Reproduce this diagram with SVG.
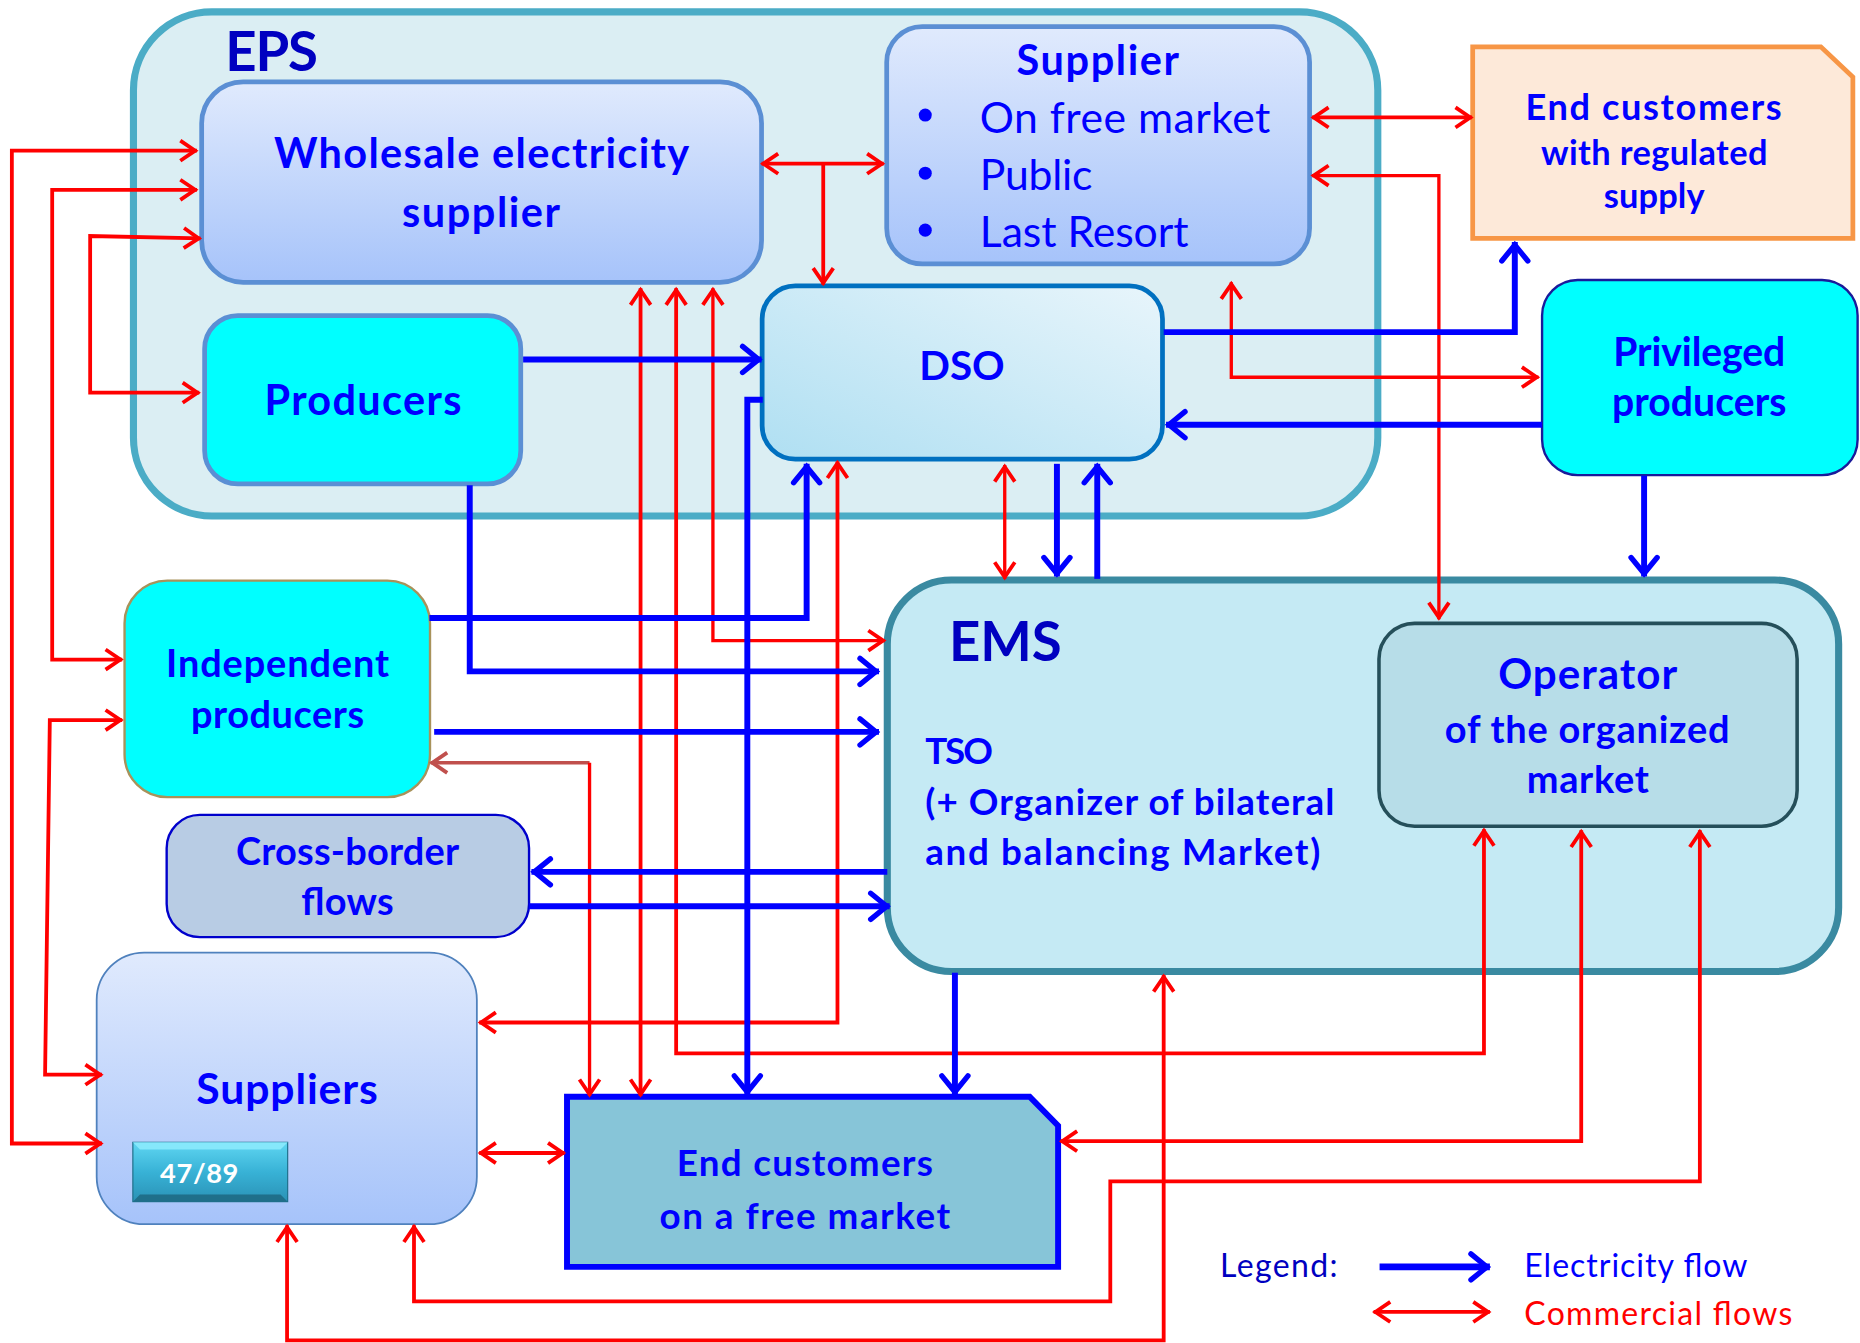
<svg xmlns="http://www.w3.org/2000/svg" width="1860" height="1343" viewBox="0 0 1860 1343">
<defs>
<style>
.t{font-family:Lato,"Open Sans","Noto Sans",sans-serif;font-weight:bold;fill:#0000ff;text-anchor:middle}
.tr{font-family:Lato,"Open Sans","Noto Sans",sans-serif;font-weight:normal;fill:#0000ff}
.r{fill:none;stroke:#ff0000;stroke-width:3.2;stroke-linejoin:miter}
.r2{fill:none;stroke:#ff0000;stroke-width:2.8}
.b{fill:none;stroke:#0000ff;stroke-width:5}
.ra{marker-end:url(#mr)}
.rr{marker-start:url(#mr);marker-end:url(#mr)}
.ba{marker-end:url(#mb)}
</style>
<linearGradient id="gSup" x1="0" y1="0" x2="0" y2="1">
<stop offset="0" stop-color="#e0eafd"/><stop offset="1" stop-color="#a6c3fa"/>
</linearGradient>
<linearGradient id="gDso" x1="0" y1="1" x2="1" y2="0">
<stop offset="0" stop-color="#afdff2"/><stop offset="1" stop-color="#e8f5fb"/>
</linearGradient>
<linearGradient id="gBtn" x1="0" y1="0" x2="0" y2="1">
<stop offset="0" stop-color="#5fd6f2"/><stop offset="0.5" stop-color="#38b2d6"/><stop offset="1" stop-color="#2a92b6"/>
</linearGradient>
<marker id="mr" viewBox="-20 -14 26 28" markerWidth="26" markerHeight="28" refX="0" refY="0" orient="auto-start-reverse" markerUnits="userSpaceOnUse" overflow="visible">
<path d="M-14,-8.5 L-1.5,0 L-14,8.5" fill="none" stroke="#ff0000" stroke-width="3.2"/>
</marker>
<marker id="mbr" viewBox="-20 -14 26 28" markerWidth="26" markerHeight="28" refX="0" refY="0" orient="auto-start-reverse" markerUnits="userSpaceOnUse" overflow="visible">
<path d="M-14,-8.5 L-1.5,0 L-14,8.5" fill="none" stroke="#c0504d" stroke-width="3.2"/>
</marker>
<marker id="mb" viewBox="-22 -16 28 32" markerWidth="28" markerHeight="32" refX="0" refY="0" orient="auto-start-reverse" markerUnits="userSpaceOnUse" overflow="visible">
<path d="M-16,-11 L-2.5,0 L-16,11" fill="none" stroke="#0000ff" stroke-width="4.5" stroke-linecap="round"/>
</marker>
</defs>
<rect width="1860" height="1343" fill="#ffffff"/>
<g transform="scale(1.18622)">
<g id="eps">
<rect x="112.5" y="10" width="1049" height="425" rx="66" fill="#dbeef3" stroke="#4bacc6" stroke-width="6"/>
<text x="190" y="60" class="t" style="text-anchor:start;fill:#0000c0" font-size="46" textLength="78">EPS</text>
</g>
<g id="ems">
<rect x="748" y="489" width="802" height="330" rx="54" fill="#c5eaf4" stroke="#3a8aa1" stroke-width="6"/>
<text x="800" y="557" class="t" style="text-anchor:start;fill:#0000c0" font-size="46" textLength="95">EMS</text>
<text x="780" y="644" class="t" style="text-anchor:start" font-size="31" textLength="57">TSO</text>
<text x="780" y="687" class="t" style="text-anchor:start" font-size="31" textLength="345">(+ Organizer of bilateral</text>
<text x="780" y="729" class="t" style="text-anchor:start" font-size="31" textLength="333">and balancing Market)</text>
</g>
<g id="wholesale">
<rect x="170" y="69" width="472" height="169" rx="35" fill="url(#gSup)" stroke="#5b8fd4" stroke-width="4"/>
<text x="406" y="141.5" class="t" font-size="35" textLength="350">Wholesale electricity</text>
<text x="405.5" y="191" class="t" font-size="35" textLength="133">supplier</text>
</g>
<g id="supplier">
<rect x="747.5" y="22.5" width="356.5" height="200" rx="30" fill="url(#gSup)" stroke="#5b8fd4" stroke-width="4"/>
<text x="925.5" y="63" class="t" font-size="35" textLength="137">Supplier</text>
<circle cx="780" cy="97" r="5.5" fill="#0000ff"/>
<circle cx="780" cy="146" r="5.5" fill="#0000ff"/>
<circle cx="780" cy="194" r="5.5" fill="#0000ff"/>
<text x="826" y="112" class="tr" font-size="36" textLength="245">On free market</text>
<text x="826" y="160" class="tr" font-size="36" textLength="95">Public</text>
<text x="826" y="208" class="tr" font-size="36" textLength="176">Last Resort</text>
</g>
<g id="regulated">
<path d="M1241.5,39.5 H1535 L1562,65 V201 H1241.5 Z" fill="#fde9d9" stroke="#f79646" stroke-width="4"/>
<text x="1394" y="101" class="t" font-size="30.5" textLength="216">End customers</text>
<text x="1394.5" y="139" class="t" font-size="29" textLength="191">with regulated</text>
<text x="1394.5" y="175.5" class="t" font-size="29" textLength="85">supply</text>
</g>
<g id="producers">
<rect x="172.5" y="266" width="266.5" height="142" rx="28" fill="#00ffff" stroke="#5b8fd4" stroke-width="4"/>
<text x="306" y="350" class="t" font-size="35" textLength="166">Producers</text>
</g>
<g id="dso">
<rect x="642.5" y="241" width="337.5" height="146" rx="28" fill="url(#gDso)" stroke="#0070c0" stroke-width="4"/>
<text x="811" y="320" class="t" font-size="34">DSO</text>
</g>
<g id="privileged">
<rect x="1300" y="236" width="266" height="164.5" rx="30" fill="#00ffff" stroke="#1a1a9a" stroke-width="2"/>
<text x="1432.5" y="308.5" class="t" font-size="33" textLength="145">Privileged</text>
<text x="1432.5" y="350.5" class="t" font-size="33" textLength="147">producers</text>
</g>
<g id="independent">
<rect x="105" y="489.5" width="257.5" height="182.5" rx="36" fill="#00ffff" stroke="#a8925a" stroke-width="2"/>
<text x="234" y="571" class="t" font-size="32" textLength="188">Independent</text>
<text x="234" y="614" class="t" font-size="32" textLength="146">producers</text>
</g>
<g id="crossborder">
<rect x="140.5" y="687" width="305.5" height="103" rx="28" fill="#b8cce4" stroke="#0000cc" stroke-width="2"/>
<text x="293" y="729" class="t" font-size="32" textLength="188">Cross-border</text>
<text x="293" y="771" class="t" font-size="32" textLength="78">flows</text>
</g>
<g id="suppliers">
<rect x="81.5" y="803" width="320.5" height="229" rx="40" fill="url(#gSup)" stroke="#4f81bd" stroke-width="1.5"/>
<text x="242" y="930.5" class="t" font-size="36" textLength="153">Suppliers</text>
<rect x="112" y="963" width="130.5" height="50" fill="url(#gBtn)" stroke="#1f6f8a" stroke-width="1"/>
<polygon points="112,963 242.5,963 236.5,969 118,969" fill="#86e8fb"/>
<polygon points="112,1013 242.5,1013 236.5,1007 118,1007" fill="#1f6f8a"/>
<text x="135" y="997" class="t" style="text-anchor:start;fill:#ffffff" font-size="23" textLength="66">47/89</text>
</g>
<g id="operator">
<rect x="1162.5" y="525.5" width="352.5" height="171" rx="30" fill="#b7dde8" stroke="#254f5a" stroke-width="3"/>
<text x="1338.5" y="581" class="t" font-size="35.5" textLength="151">Operator</text>
<text x="1338" y="626" class="t" font-size="32" textLength="240">of the organized</text>
<text x="1338.5" y="668.5" class="t" font-size="32" textLength="103">market</text>
</g>
<g id="freemarket">
<path d="M478,924.5 H868 L892,949 V1068 H478 Z" fill="#87c5d8" stroke="#0000ff" stroke-width="5"/>
<text x="678.5" y="991.5" class="t" font-size="31" textLength="216">End customers</text>
<text x="678.5" y="1036" class="t" font-size="31" textLength="245">on a free market</text>
</g>
<g id="connectors">
<path class="r rr" d="M166,127 H10 V964 H86"/>
<path class="r rr" d="M166,160 H44 V556 H103"/>
<path class="r rr" d="M169,201 L76,199 V331 H168"/>
<path class="r rr" d="M103,607 H42 L38,906 H86"/>
<path class="r rr" d="M642,138 H745"/>
<path class="r ra" d="M694,138 V240"/>
<path class="r rr" d="M1106,99 H1241"/>
<path class="r2 rr" d="M1106,148 H1213 V522"/>
<path class="r2 rr" d="M1038,238 V318 H1297"/>
<path class="r rr" d="M540,243 V924"/>
<path class="r rr" d="M570,243 V888 H1251 V699"/>
<path class="r2 rr" d="M601,243 V540 H746"/>
<path class="r rr" d="M706,389 V862 H404"/>
<path class="r2 rr" d="M847,392 V488"/>
<path d="M497,643 H363" fill="none" stroke="#c0504d" stroke-width="3" marker-end="url(#mbr)"/>
<path class="r2 ra" d="M497,643 V924"/>
<path class="r rr" d="M404,972 H476"/>
<path class="r rr" d="M1333,700 V962 H894"/>
<path class="r rr" d="M1433,700 V996 H936 V1097 H349 V1033"/>
<path class="r rr" d="M981,822 V1130 H242 V1033"/>
<path class="b ba" d="M441,303 H642"/>
<path class="b ba" d="M396,409 V566 H741"/>
<path class="b ba" d="M362,521 H680 V391"/>
<path class="b ba" d="M366,617 H741"/>
<path class="b ba" d="M643,337 H630 V923"/>
<path class="b ba" d="M748,735 H448"/>
<path class="b ba" d="M446,764 H750"/>
<path class="b ba" d="M891,391 V486"/>
<path class="b ba" d="M925,488 V391"/>
<path class="b ba" d="M981,280 H1277 V204"/>
<path class="b ba" d="M1300,358 H983"/>
<path class="b ba" d="M1386,401 V486"/>
<path class="b ba" d="M805,820 V923"/>
</g>
<g id="legend">
<text x="1028.5" y="1076.5" class="tr" style="fill:#0000c0" font-size="27" textLength="99">Legend:</text>
<path class="b ba" d="M1163,1068 H1256" style="stroke-width:5.5"/>
<path class="r rr" d="M1158,1106 H1256"/>
<text x="1285" y="1076.5" class="tr" font-size="27" textLength="188">Electricity flow</text>
<text x="1285" y="1117" class="tr" style="fill:#ff0000" font-size="27" textLength="226">Commercial flows</text>
</g>
</g>
</svg>
